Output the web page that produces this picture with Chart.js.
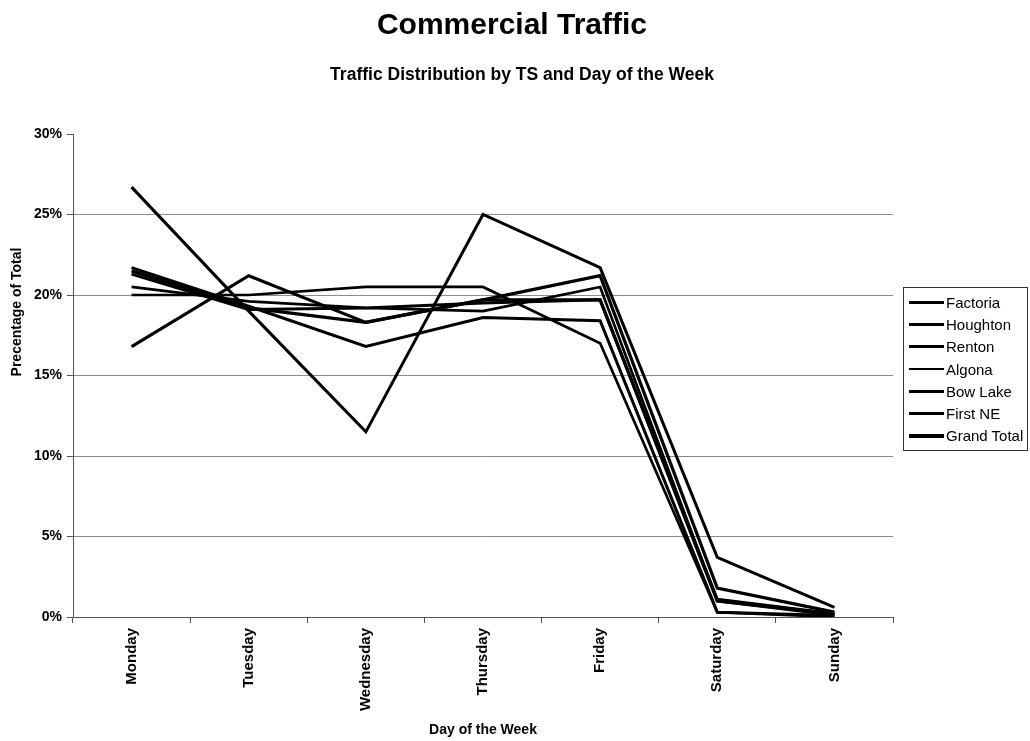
<!DOCTYPE html>
<html>
<head>
<meta charset="utf-8">
<title>Commercial Traffic</title>
<script src="https://cdn.jsdelivr.net/npm/chart.js@4/dist/chart.umd.min.js"></script>
<style>
  html, body { margin: 0; padding: 0; background: #fff; }
  #wrap { position: relative; width: 1030px; height: 741px; }
  #legend {
    position: absolute; left: 903px; top: 287px; width: 125px;
    border: 1px solid #333; box-sizing: border-box; padding: 3px 0;
    font: 15px "Liberation Sans", Arial, sans-serif; color: #000;
  }
  .row { display: flex; align-items: center; height: 22.3px; }
  .swatch { width: 35px; margin: 0 2px 0 5px; background: #000; }
</style>
</head>
<body>
<div id="wrap">
  <canvas id="chart" width="1030" height="741"></canvas>
  <div id="legend"></div>
</div>
<script>
// ===== DATA =====
const days = ["Monday", "Tuesday", "Wednesday", "Thursday", "Friday", "Saturday", "Sunday"];
const sites = ["Factoria", "Houghton", "Renton", "Algona", "Bow Lake", "First NE", "Grand Total"];

// share of weekly commercial traffic, percent
const factoria   = [26.7, 19.0, 11.5, 25.0, 21.7, 3.7, 0.6];
const houghton   = [16.8, 21.2, 18.3, 19.7, 21.2, 1.8, 0.3];
const renton     = [21.7, 19.3, 16.8, 18.6, 18.4, 0.3, 0.1];
const algona     = [20.0, 20.0, 20.5, 20.5, 17.0, 0.3, 0.0];
const bowLake    = [20.5, 19.6, 19.2, 19.0, 20.5, 1.0, 0.1];
const firstNE    = [21.3, 19.1, 19.2, 19.5, 19.7, 1.1, 0.2];
const grandTotal = [21.5, 19.2, 18.3, 19.7, 19.7, 1.0, 0.2];

const yMin = 0, yMax = 30, yStep = 5;

const seriesValues = [factoria, houghton, renton, algona, bowLake, firstNE, grandTotal];
const lineWidths   = [3, 3.2, 3, 2.7, 2.7, 3, 3.2];

const FONT = '"Liberation Sans", Arial, sans-serif';

// ===== TITLES (drawn on the canvas) =====
const titlesPlugin = {
  id: "titles",
  afterDraw(chart) {
    const ctx = chart.ctx;
    ctx.save();
    ctx.fillStyle = "#000";
    ctx.textAlign = "center";
    ctx.textBaseline = "middle";
    ctx.font = `bold 30px ${FONT}`;
    ctx.fillText("Commercial Traffic", 512, 26);
    ctx.font = `bold 17.5px ${FONT}`;
    ctx.fillText("Traffic Distribution by TS and Day of the Week", 522, 75);

    ctx.translate(17, 312);
    ctx.rotate(-Math.PI / 2);
    ctx.font = `bold 14px ${FONT}`;
    ctx.fillText("Precentage of Total", 0, 0);
    ctx.restore();
  }
};

// ===== CHART =====
const datasets = sites.map((name, i) => ({
  label: name,
  data: seriesValues[i],
  borderColor: "#000",
  backgroundColor: "#000",
  borderWidth: lineWidths[i],
  pointRadius: 0,
  tension: 0,
  fill: false
}));

new Chart(document.getElementById("chart"), {
  type: "line",
  data: { labels: days, datasets },
  plugins: [titlesPlugin],
  options: {
    responsive: false,
    animation: false,
    layout: { padding: { top: 134, right: 137, left: 0, bottom: 0 } },
    plugins: {
      legend: { display: false },
      title: { display: false },
      tooltip: { enabled: false }
    },
    scales: {
      x: {
        offset: true,
        afterFit: s => { s.height = 124; },
        grid: { offset: true, drawOnChartArea: false, drawTicks: true, tickLength: 6, tickColor: "#555" },
        border: { color: "#555", width: 1 },
        ticks: {
          color: "#000", maxRotation: 90, minRotation: 90, padding: 5,
          font: { family: FONT, size: 15, weight: "bold" }
        },
        title: {
          display: true, text: "Day of the Week", color: "#000",
          font: { family: FONT, size: 14, weight: "bold" },
          padding: { top: 0, bottom: 2 }
        }
      },
      y: {
        min: yMin, max: yMax,
        afterFit: s => { s.width = 73; },
        grid: {
          color: c => (c.tick && c.tick.value === yMax ? "rgba(0,0,0,0)" : "#8c8c8c"),
          tickColor: "#555", tickLength: 6, lineWidth: 1
        },
        border: { color: "#555", width: 1 },
        ticks: {
          stepSize: yStep, color: "#000", padding: 5,
          font: { family: FONT, size: 14, weight: "bold" },
          callback: v => v + "%"
        }
      }
    }
  }
});

// ===== LEGEND =====
const legend = document.getElementById("legend");
sites.forEach((name, i) => {
  const row = document.createElement("div");
  row.className = "row";
  const sw = document.createElement("span");
  sw.className = "swatch";
  sw.style.height = lineWidths[i] + "px";
  const label = document.createElement("span");
  label.textContent = name;
  row.appendChild(sw);
  row.appendChild(label);
  legend.appendChild(row);
});
</script>
</body>
</html>
